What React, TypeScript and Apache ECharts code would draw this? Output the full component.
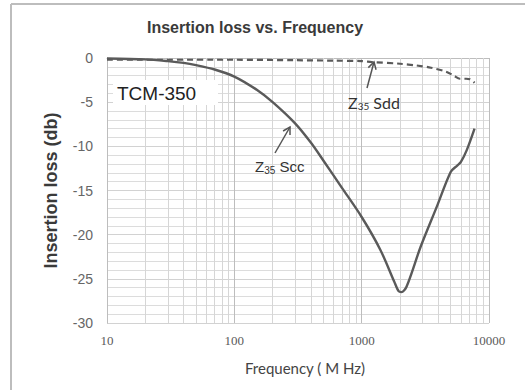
import React, { useEffect, useRef } from "react";
import * as echarts from "echarts";

const TITLE = "Insertion loss vs. Frequency";
const X_NAME = "Frequency ( M Hz)";
const Y_NAME = "Insertion loss (db)";

// Z35 Scc (solid)
const sccFreq = [10, 20, 30, 40, 50, 70, 100, 150, 200, 300, 400, 500, 700, 1000, 1400, 1800, 1950, 2050, 2250, 2900, 3900, 5000, 5600, 6000, 6700, 7700];
const sccLoss = [-0.05, -0.15, -0.35, -0.55, -0.8, -1.3, -2.1, -3.6, -5.0, -7.4, -9.6, -11.6, -14.7, -18.0, -21.7, -25.3, -26.4, -26.5, -25.9, -21.4, -16.8, -12.9, -12.2, -11.8, -10.4, -8.0];

// Z35 Sdd (dashed)
const sddFreq = [10, 100, 300, 600, 1000, 1200, 2000, 2700, 3500, 4600, 5300, 5900, 6600, 7100, 7700];
const sddLoss = [-0.2, -0.2, -0.25, -0.3, -0.35, -0.45, -0.65, -0.85, -1.1, -1.55, -2.0, -2.35, -2.35, -2.4, -2.8];

const minorFreqs = [20, 30, 40, 50, 60, 70, 80, 90, 200, 300, 400, 500, 600, 700, 800, 900, 2000, 3000, 4000, 5000, 6000, 7000, 8000, 9000];

function arrow(x1: number, y1: number, x2: number, y2: number, color: string) {
  const dx = x2 - x1, dy = y2 - y1;
  const L = Math.hypot(dx, dy);
  const bx = -dx / L, by = -dy / L;
  const len = 8, a = Math.PI / 6;
  const w1 = [x2 + len * (bx * Math.cos(a) - by * Math.sin(a)), y2 + len * (bx * Math.sin(a) + by * Math.cos(a))];
  const w2 = [x2 + len * (bx * Math.cos(-a) - by * Math.sin(-a)), y2 + len * (bx * Math.sin(-a) + by * Math.cos(-a))];
  return [
    { type: "line", shape: { x1, y1, x2, y2 }, style: { stroke: color, lineWidth: 1.5 }, z: 20 },
    { type: "polyline", shape: { points: [w1, [x2, y2], w2] }, style: { stroke: color, lineWidth: 1.5, fill: null }, z: 20 },
  ];
}

export default function App() {
  const ref = useRef<HTMLDivElement>(null);
  useEffect(() => {
    if (!ref.current) return;
    const chart = echarts.init(ref.current, null, { renderer: "svg" });
    const lineColor = "#5a5a5a";
    const option: any = {
      animation: false,
      backgroundColor: "#ffffff",
      title: {
        text: TITLE,
        left: 250,
        top: 14,
        textAlign: "center",
        textStyle: { fontFamily: "Liberation Sans, Arial", fontSize: 16, fontWeight: "bold", color: "#3a3a3a" },
      },
      grid: { left: 107, right: 36, top: 58, bottom: 67 },
      xAxis: {
        type: "log",
        logBase: 10,
        min: 10,
        max: 10000,
        axisLine: { show: true, lineStyle: { color: "#bdbdbd", width: 1 } },
        axisTick: { show: false },
        axisLabel: {
          fontFamily: "Liberation Serif, Times New Roman, serif",
          fontSize: 13,
          color: "#5a5a5a",
          margin: 11,
          formatter: (v: number) => String(Math.round(v)),
        },
        splitLine: { show: true, lineStyle: { color: "#bdbdbd", width: 1 } },
      },
      yAxis: {
        type: "value",
        min: -30,
        max: 0,
        interval: 5,
        axisLine: { show: true, lineStyle: { color: "#bdbdbd", width: 1 } },
        axisTick: { show: false },
        axisLabel: { fontFamily: "Liberation Sans, Arial", fontSize: 14, color: "#666", margin: 14 },
        splitLine: { show: true, lineStyle: { color: "#d2d2d2", width: 1 } },
        minorTick: { show: false, splitNumber: 5 },
        minorSplitLine: { show: true, lineStyle: { color: "#dcdcdc", width: 1 } },
        name: Y_NAME,
        nameLocation: "middle",
        nameGap: 47,
        nameRotate: 90,
        nameTextStyle: { fontFamily: "Liberation Sans, Arial", fontSize: 18, fontWeight: "bold", color: "#3a3a3a" },
      },
      series: [
        {
          type: "line",
          data: [],
          z: 1,
          silent: true,
          markLine: {
            silent: true,
            symbol: "none",
            label: { show: false },
            lineStyle: { color: "#d6d6d6", width: 1, type: "solid" },
            data: minorFreqs.map((f) => ({ xAxis: f })),
          },
        },
        {
          type: "line",
          name: "Sdd",
          data: sddFreq.map((f, i) => [f, sddLoss[i]]),
          showSymbol: false,
          smooth: 0.3,
          z: 5,
          lineStyle: { color: lineColor, width: 2.2, type: [6, 4] },
        },
        {
          type: "line",
          name: "Scc",
          data: sccFreq.map((f, i) => [f, sccLoss[i]]),
          showSymbol: false,
          smooth: 0.3,
          z: 6,
          lineStyle: { color: lineColor, width: 2.4 },
        },
      ],
      graphic: [
        { type: "line", shape: { x1: 11, y1: 4, x2: 11, y2: 390 }, style: { stroke: "#bdbdbd", lineWidth: 2 } },
        { type: "line", shape: { x1: 11, y1: 4, x2: 525, y2: 4 }, style: { stroke: "#bdbdbd", lineWidth: 2 } },
        { type: "rect", shape: { x: 113, y: 80, width: 105, height: 25 }, style: { fill: "#ffffff" }, z: 10 },
        {
          type: "text",
          x: 117,
          y: 93,
          z: 11,
          style: { text: "TCM-350", fontFamily: "Liberation Sans, Arial", fontSize: 19, fill: "#222", textVerticalAlign: "middle" },
        },
        {
          type: "text",
          x: 305,
          y: 368,
          z: 11,
          style: { text: X_NAME, fontFamily: "Lato, Open Sans", fontSize: 15, fill: "#444", textAlign: "center", textVerticalAlign: "middle" },
        },
        {
          type: "text",
          x: 255,
          y: 166,
          z: 11,
          style: {
            text: "{z|Z}{s|35}{n| Scc}",
            textVerticalAlign: "middle",
            rich: {
              z: { fontFamily: "Liberation Sans, Arial", fontSize: 15, fill: "#333" },
              s: { fontFamily: "Liberation Sans, Arial", fontSize: 10, fill: "#333", padding: [8, 0, 0, 0] },
              n: { fontFamily: "Liberation Sans, Arial", fontSize: 15, fill: "#333" },
            },
          },
        },
        {
          type: "text",
          x: 348,
          y: 102,
          z: 11,
          style: {
            text: "{z|Z}{s|35}{n| Sdd}",
            textVerticalAlign: "middle",
            rich: {
              z: { fontFamily: "Lato, Open Sans", fontSize: 16, fill: "#333" },
              s: { fontFamily: "Lato, Open Sans", fontSize: 10, fill: "#333", padding: [8, 0, 0, 0] },
              n: { fontFamily: "Lato, Open Sans", fontSize: 16, fill: "#333" },
            },
          },
        },
        ...arrow(275, 153, 290, 127, "#555"),
        ...arrow(367, 88, 374, 62, "#555"),
      ],
    };
    chart.setOption(option);
    return () => chart.dispose();
  }, []);
  return <div ref={ref} style={{ position: "fixed", left: 0, top: 0, width: 525, height: 390 }} />;
}
